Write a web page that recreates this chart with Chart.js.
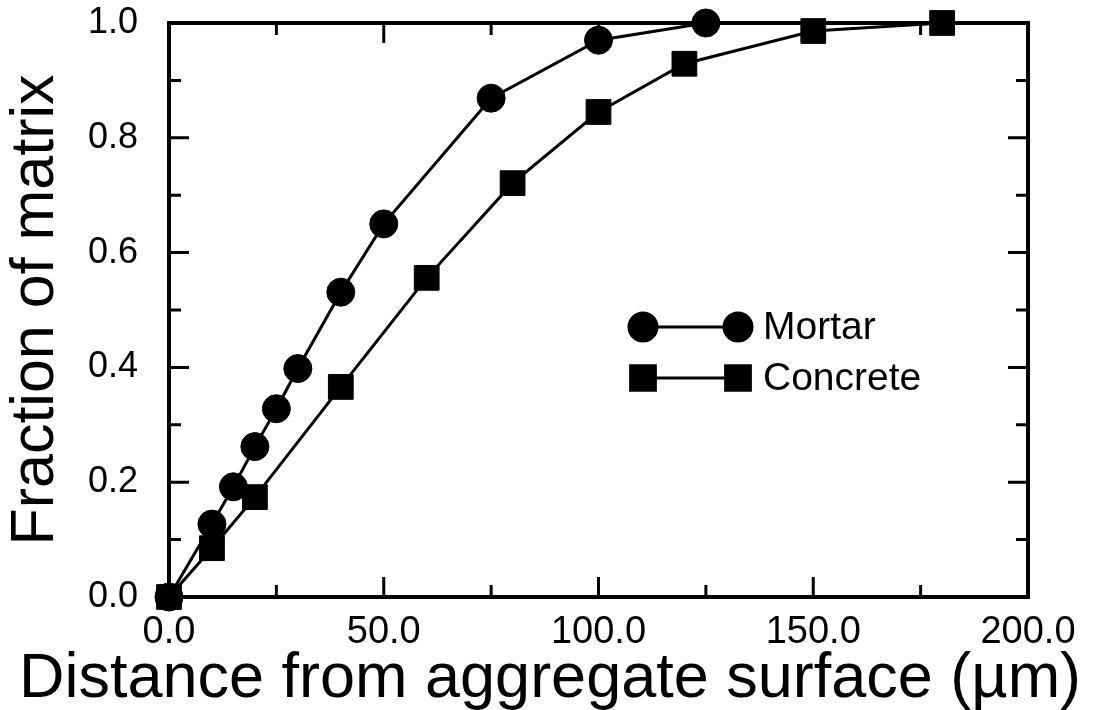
<!DOCTYPE html>
<html>
<head>
<meta charset="utf-8">
<title>Fraction of matrix vs distance from aggregate surface</title>
<script src="https://cdn.jsdelivr.net/npm/chart.js@4.4.0/dist/chart.umd.min.js"></script>
<style>
    body { margin: 0; background: #fff; }
    #wrap { width: 1100px; height: 710px; }
</style>
</head>
<body>
<div id="wrap"><canvas id="matrixChart" width="1100" height="710"></canvas></div>
<script>
// values
const mortarDistance = [0, 10, 15, 20, 25, 30, 40, 50, 75, 100, 125];
const mortarFraction = [0, 0.127, 0.192, 0.262, 0.328, 0.398, 0.531, 0.65, 0.869, 0.97, 1.0];
const concreteDistance = [0, 10, 20, 40, 60, 80, 100, 120, 150, 180];
const concreteFraction = [0, 0.085, 0.174, 0.366, 0.556, 0.721, 0.845, 0.929, 0.986, 1.0];

const xRange = [0, 200];
const yRange = [0, 1];
const xMajor = 50, xMinor = 25;
const yMajor = 0.2, yMinor = 0.1;

const xTitle = 'Distance from aggregate surface (\u00b5m)';
const yTitle = 'Fraction of matrix';

const FONT = '"Liberation Sans", Arial, Helvetica, sans-serif';

function toPoints(xs, ys) {
    return xs.map((x, i) => ({ x: x, y: ys[i] }));
}

// box round the plot with inward ticks on all four sides
const frameTicks = {
    id: 'frameTicks',
    afterDatasetsDraw(chart) {
        const { ctx, chartArea: a, scales } = chart;
        ctx.save();
        ctx.strokeStyle = '#000';
        ctx.lineCap = 'butt';
        ctx.lineWidth = 3;

        const steps = (min, max, step) => {
            const out = [];
            for (let i = 0; min + i * step <= max + 1e-9; i++) out.push(+(min + i * step).toFixed(6));
            return out;
        };
        const isMajor = (v, step) => Math.abs(v / step - Math.round(v / step)) < 1e-6;

        steps(xRange[0], xRange[1], xMinor).forEach(v => {
            const px = scales.x.getPixelForValue(v);
            const len = isMajor(v, xMajor) ? 20 : 12;
            ctx.beginPath();
            ctx.moveTo(px, a.bottom); ctx.lineTo(px, a.bottom - len);
            ctx.moveTo(px, a.top); ctx.lineTo(px, a.top + len);
            ctx.stroke();
        });
        steps(yRange[0], yRange[1], yMinor).forEach(v => {
            const py = scales.y.getPixelForValue(v);
            const len = isMajor(v, yMajor) ? 20 : 12;
            ctx.beginPath();
            ctx.moveTo(a.left, py); ctx.lineTo(a.left + len, py);
            ctx.moveTo(a.right, py); ctx.lineTo(a.right - len, py);
            ctx.stroke();
        });

        ctx.lineWidth = 4;
        ctx.strokeRect(a.left, a.top, a.right - a.left, a.bottom - a.top);

        // x title runs wider than the plot, so it is drawn here without a max width
        ctx.fillStyle = '#000';
        ctx.font = '63px ' + FONT;
        ctx.textAlign = 'center';
        ctx.textBaseline = 'alphabetic';
        ctx.fillText(xTitle, chart.width / 2, 697);
        ctx.restore();
    }
};

// legend drawn as marker - line - marker, like the original
const inlineLegend = {
    id: 'inlineLegend',
    afterDraw(chart) {
        const ctx = chart.ctx;
        const x1 = 643, x2 = 738, textX = 763;
        const rows = [327, 378];
        ctx.save();
        chart.data.datasets.forEach((ds, i) => {
            const y = rows[i];
            ctx.strokeStyle = ds.borderColor;
            ctx.lineWidth = ds.borderWidth;
            ctx.beginPath();
            ctx.moveTo(x1, y);
            ctx.lineTo(x2, y);
            ctx.stroke();
            ctx.fillStyle = ds.pointBackgroundColor;
            ctx.strokeStyle = ds.pointBorderColor;
            const opts = { pointStyle: ds.pointStyle, radius: ds.pointRadius, rotation: 0, borderWidth: 1 };
            Chart.helpers.drawPoint(ctx, opts, x1, y);
            Chart.helpers.drawPoint(ctx, opts, x2, y);
            ctx.fillStyle = '#000';
            ctx.font = '39px ' + FONT;
            ctx.textAlign = 'left';
            ctx.textBaseline = 'middle';
            ctx.fillText(ds.label, textX, y + 1);
        });
        ctx.restore();
    }
};

function noEdgePadding(scale) {
    scale.paddingTop = 0;
    scale.paddingBottom = 0;
    scale.paddingLeft = 0;
    scale.paddingRight = 0;
}

const ctx = document.getElementById('matrixChart').getContext('2d');
Chart.defaults.color = '#000';

new Chart(ctx, {
    type: 'line',
    data: {
        datasets: [{
            label: 'Mortar',
            data: toPoints(mortarDistance, mortarFraction),
            borderColor: '#000',
            borderWidth: 3,
            pointStyle: 'circle',
            pointRadius: 14,
            pointBackgroundColor: '#000',
            pointBorderColor: '#000',
            pointBorderWidth: 1,
            tension: 0,
            clip: false
        }, {
            label: 'Concrete',
            data: toPoints(concreteDistance, concreteFraction),
            borderColor: '#000',
            borderWidth: 3,
            pointStyle: 'rect',
            pointRadius: 17.5,
            pointBackgroundColor: '#000',
            pointBorderColor: '#000',
            pointBorderWidth: 1,
            tension: 0,
            clip: false
        }]
    },
    options: {
        responsive: false,
        animation: false,
        layout: { padding: { top: 23, right: 72, left: 0, bottom: 0 } },
        plugins: {
            legend: { display: false },
            tooltip: { enabled: false }
        },
        scales: {
            x: {
                type: 'linear',
                min: xRange[0],
                max: xRange[1],
                grid: { display: false, drawTicks: false },
                border: { display: false },
                ticks: {
                    stepSize: xMajor,
                    padding: 13,
                    maxRotation: 0,
                    autoSkip: false,
                    font: { family: FONT, size: 38 },
                    callback: v => Number(v).toFixed(1)
                },
                title: { display: false },
                afterFit: scale => { scale.height = 113; noEdgePadding(scale); }
            },
            y: {
                type: 'linear',
                min: yRange[0],
                max: yRange[1],
                grid: { display: false, drawTicks: false },
                border: { display: false },
                ticks: {
                    stepSize: yMajor,
                    padding: 31,
                    autoSkip: false,
                    font: { family: FONT, size: 36 },
                    callback: v => Number(v).toFixed(1)
                },
                title: {
                    display: true,
                    text: yTitle,
                    font: { family: FONT, size: 61 },
                    padding: { top: 0, bottom: 0 }
                },
                afterFit: scale => { scale.width = 169; noEdgePadding(scale); }
            }
        }
    },
    plugins: [frameTicks, inlineLegend]
});
</script>
</body>
</html>
